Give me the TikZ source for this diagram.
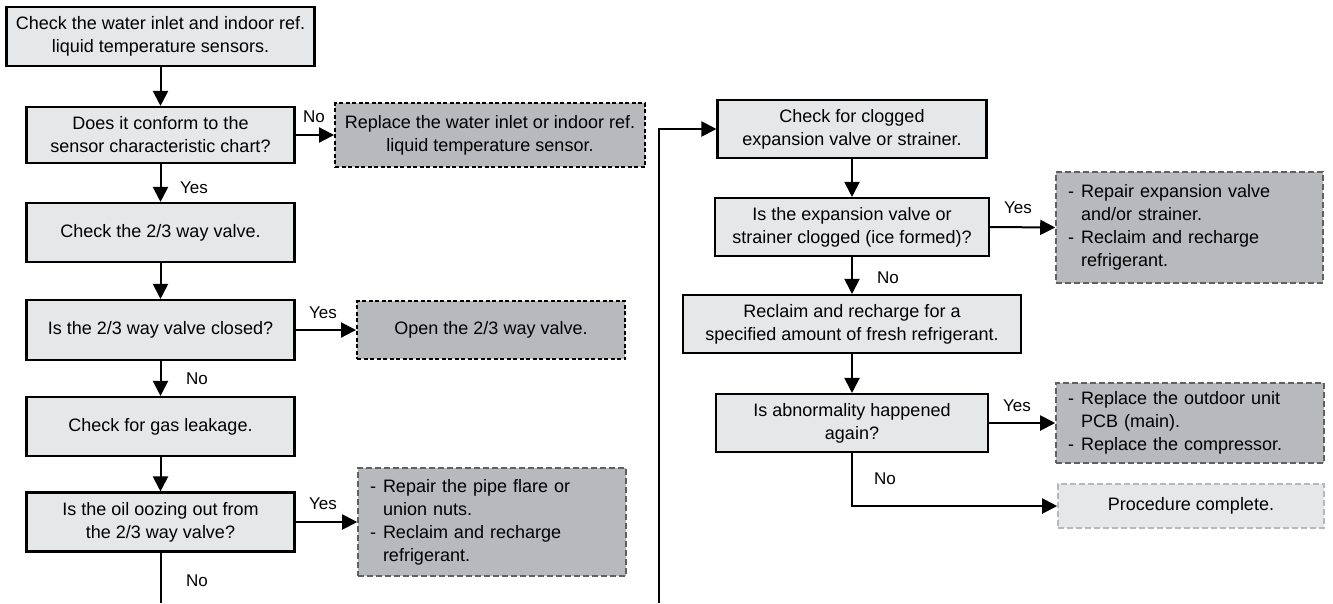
\documentclass[tikz,border=0pt]{standalone}
\usepackage{fontspec}
\setmainfont{Liberation Sans}
\usetikzlibrary{arrows.meta,positioning}
\definecolor{boxlight}{HTML}{E6E7E9}
\definecolor{boxdark}{HTML}{B7B9BC}
\definecolor{dashgray}{HTML}{606060}
\definecolor{palegray}{HTML}{B8B8BA}
\begin{document}
\begin{tikzpicture}[x=1pt,y=-1pt,
  base/.style={inner sep=0pt, align=center, font=\fontsize{18}{23}\selectfont},
  proc/.style={base, draw=black, line width=2.1pt, fill=boxlight},
  actblack/.style={base, draw=black, line width=1.9pt, fill=boxdark, dash pattern=on 4pt off 2.5pt},
  actgray/.style={base, draw=dashgray, line width=1.6pt, fill=boxdark, dash pattern=on 6pt off 3pt, align=left, inner xsep=12pt},
  donebox/.style={base, draw=palegray, line width=1.6pt, fill=boxlight, dash pattern=on 6pt off 3pt},
  lbl/.style={inner sep=0pt, font=\fontsize{17}{20}\selectfont},
  conn/.style={line width=2pt, -{Triangle[length=15pt,width=15pt]}},
  plain/.style={line width=2pt}
]
\useasboundingbox (0,0) rectangle (1333,603);
\newcommand{\itm}[2]{\makebox[13pt][l]{-}#1\\\hspace*{13pt}#2}

% left column
\node[proc, minimum width=308pt, minimum height=59pt] (n1) at (160.5,36.5) {Check the water inlet and indoor ref.\\liquid temperature sensors.};
\node[proc, minimum width=268pt, minimum height=56pt] (n2) at (160.5,135) {Does it conform to the\\sensor characteristic chart?};
\node[actblack, minimum width=310pt, minimum height=64pt] (n3) at (490,135) {Replace the water inlet or indoor ref.\\liquid temperature sensor.};
\node[proc, minimum width=268pt, minimum height=59pt] (n4) at (160.5,232.5) {Check the 2/3 way valve.};
\node[proc, minimum width=268pt, minimum height=60pt] (n5) at (160.5,330) {Is the 2/3 way valve closed?};
\node[actblack, minimum width=268pt, minimum height=58pt] (n6) at (491,330) {Open the 2/3 way valve.};
\node[proc, minimum width=268pt, minimum height=59pt] (n7) at (160.5,426.5) {Check for gas leakage.};
\node[proc, minimum width=268pt, minimum height=59pt] (n8) at (160.5,522) {Is the oil oozing out from\\the 2/3 way valve?};
\node[actgray, text width=244pt, minimum height=108pt] (n9) at (492,522) {\itm{Repair the pipe flare or}{union nuts.}\\\itm{Reclaim and recharge}{refrigerant.}};

% right column
\node[proc, minimum width=269pt, minimum height=58pt] (n10) at (852,129) {Check for clogged\\expansion valve or strainer.};
\node[proc, minimum width=274pt, minimum height=58pt] (n11) at (852,227) {Is the expansion valve or\\strainer clogged (ice formed)?};
\node[actgray, text width=243pt, minimum height=111pt] (n12) at (1189.5,227.5) {\itm{Repair expansion valve}{and/or strainer.}\\\itm{Reclaim and recharge}{refrigerant.}};
\node[proc, minimum width=338pt, minimum height=58pt] (n13) at (852,324) {Reclaim and recharge for a\\specified amount of fresh refrigerant.};
\node[proc, minimum width=272pt, minimum height=58pt] (n14) at (852,423) {Is abnormality happened\\again?};
\node[actgray, text width=244pt, minimum height=80pt] (n16) at (1190,423) {\itm{Replace the outdoor unit}{PCB (main).}\\\makebox[13pt][l]{-}Replace the compressor.};
\node[donebox, minimum width=266pt, minimum height=44pt] (n15) at (1191,506) {Procedure complete.};

% labels
\node[lbl] (l1) at (314,117) {No};
\node[lbl] (l2) at (194,188) {Yes};
\node[lbl] (l3) at (323,313) {Yes};
\node[lbl] (l4) at (197,379) {No};
\node[lbl] (l5) at (323,504) {Yes};
\node[lbl] (l6) at (197,581) {No};
\node[lbl] (l7) at (1018,208) {Yes};
\node[lbl] (l8) at (888,278) {No};
\node[lbl] (l9) at (1017,406) {Yes};
\node[lbl] (l10) at (885,479) {No};

% free ends
\coordinate (lend) at (160.5,603);
\coordinate (mstart) at (659,603);

% connectors
\draw[conn] (n1.south) -- (n2.north);
\draw[conn] (n2.east) -- (n3.west);
\draw[conn] (n2.south) -- (n4.north);
\draw[conn] (n4.south) -- (n5.north);
\draw[conn] (n5.east) -- (n6.west);
\draw[conn] (n5.south) -- (n7.north);
\draw[conn] (n7.south) -- (n8.north);
\draw[conn] (n8.east) -- (n9.west);
\draw[plain] (n8.south) -- (lend);
\draw[conn] (mstart) |- (n10.west);
\draw[conn] (n10.south) -- (n11.north);
\draw[conn] (n11.east) -- (n12.west);
\draw[conn] (n11.south) -- (n13.north);
\draw[conn] (n13.south) -- (n14.north);
\draw[conn] (n14.east) -- (n16.west);
\draw[conn] (n14.south) |- (n15.west);
\end{tikzpicture}
\end{document}
